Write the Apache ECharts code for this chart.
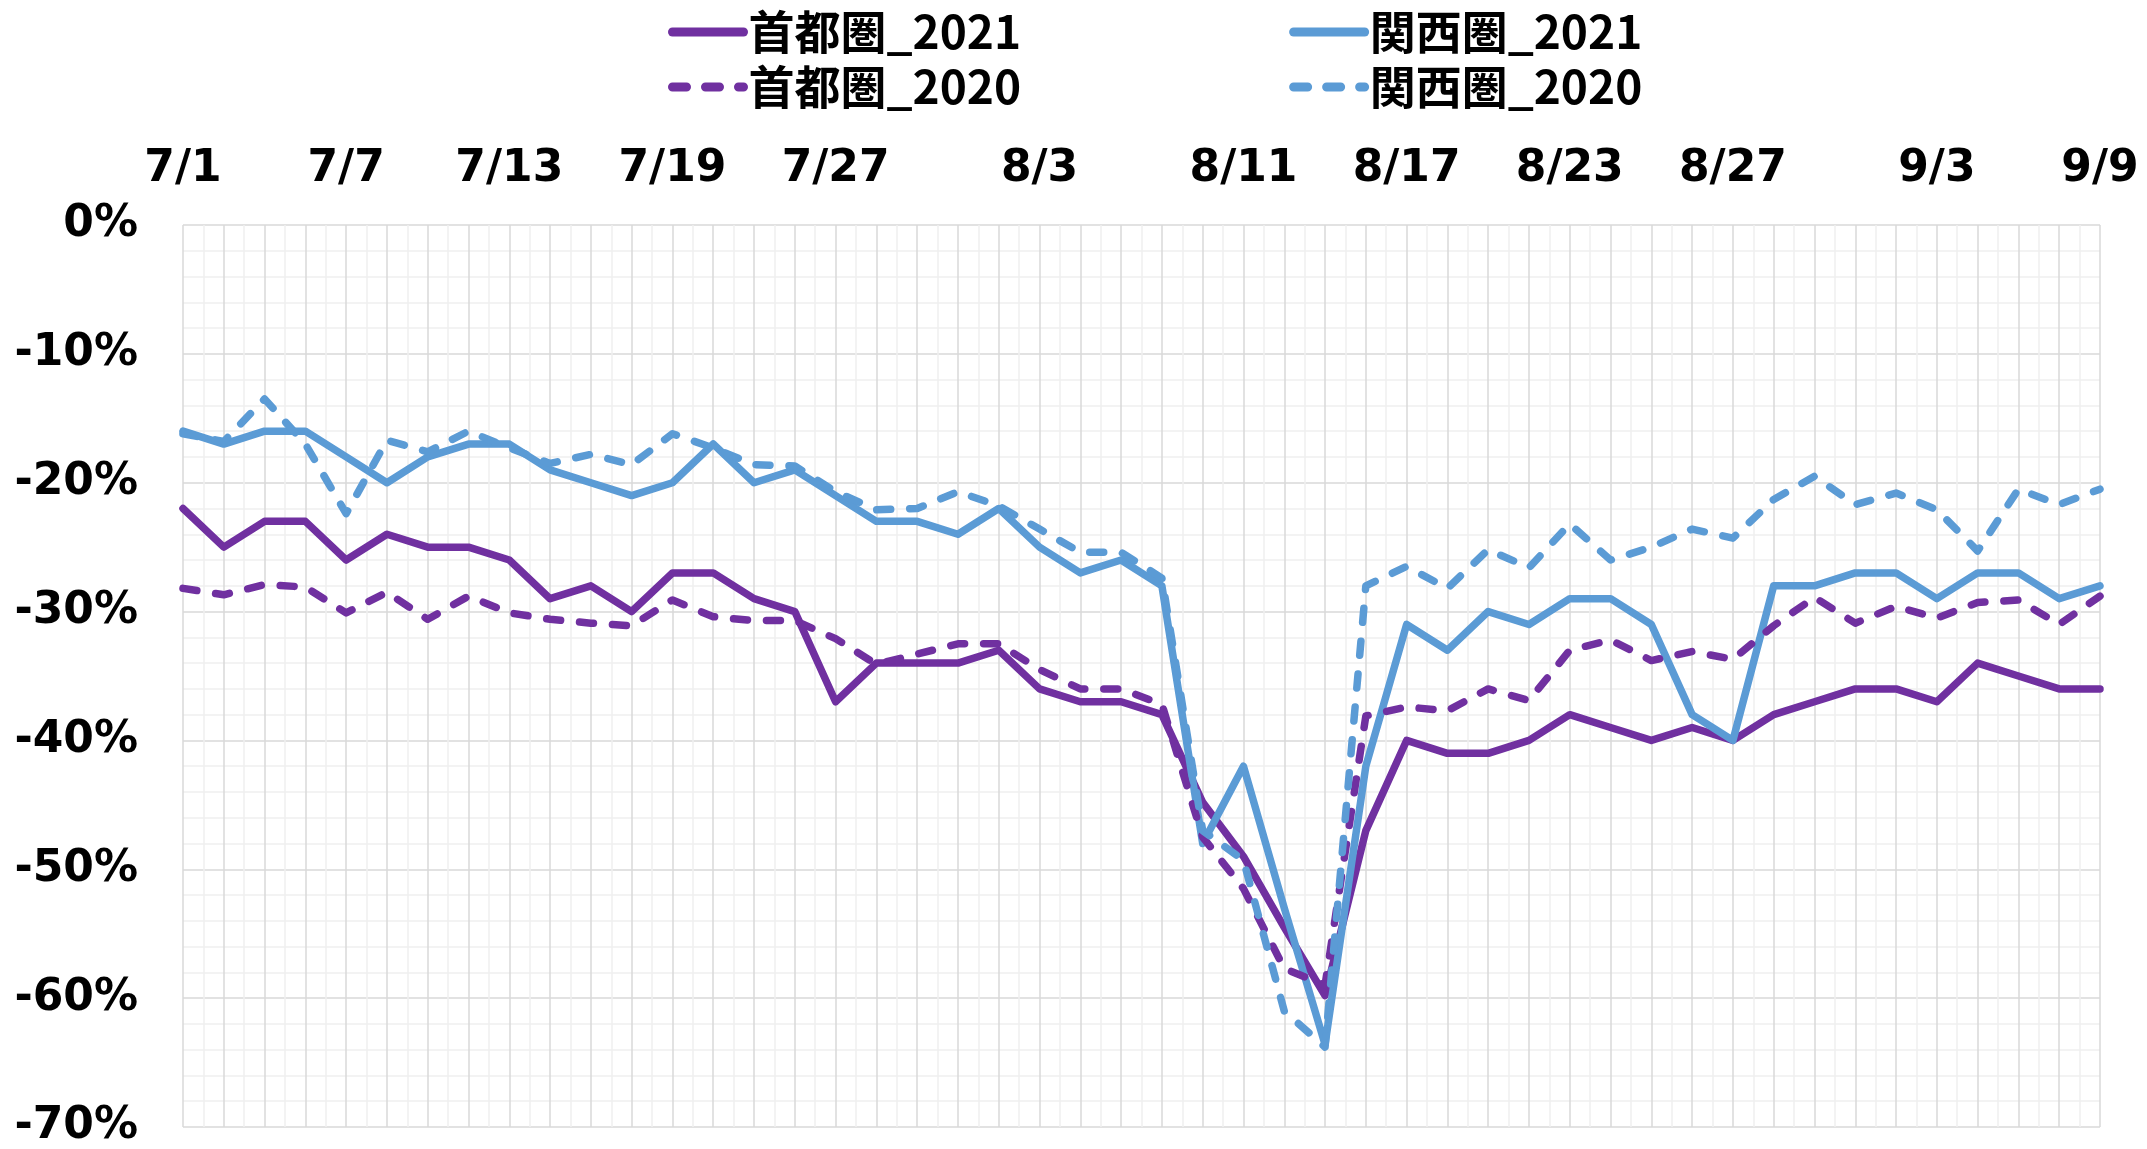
<!DOCTYPE html>
<html>
<head>
<meta charset="utf-8">
<script src="https://cdn.jsdelivr.net/npm/echarts@6/dist/echarts.min.js"></script>
<style>
html, body { margin: 0; padding: 0; background: #fff; }
#main { width: 2147px; height: 1149px; }
</style>
</head>
<body>
<div id="main"></div>
<script>
// weekdays only, holidays (7/22, 7/23, 8/9) left out
var days = ['7/1','7/2','7/5','7/6','7/7','7/8','7/9','7/12','7/13','7/14','7/15','7/16',
    '7/19','7/20','7/21','7/26','7/27','7/28','7/29','7/30','8/2','8/3','8/4','8/5',
    '8/6','8/10','8/11','8/12','8/13','8/16','8/17','8/18','8/19','8/20','8/23','8/24',
    '8/25','8/26','8/27','8/30','8/31','9/1','9/2','9/3','9/6','9/7','9/8','9/9'];
var shownDays = ['7/1','7/7','7/13','7/19','7/27','8/3','8/11','8/17','8/23','8/27','9/3','9/9'];

var shuto2021 = [-22,-25,-23,-23,-26,-24,-25,-25,-26,-29,-28,-30,-27,-27,-29,-30,-37,-34,-34,-34,-33,-36,-37,-37,
    -38,-44.8,-49,-54.5,-59.8,-47,-40,-41,-41,-40,-38,-39,-40,-39,-40,-38,-37,-36,-36,-37,-34,-35,-36,-36];
var kansai2021 = [-16,-17,-16,-16,-18,-20,-18,-17,-17,-19,-20,-21,-20,-17,-20,-19,-21,-23,-23,-24,-22,-25,-27,-26,
    -28,-48,-42,-53,-63.6,-42,-31,-33,-30,-31,-29,-29,-31,-38,-40,-28,-28,-27,-27,-29,-27,-27,-29,-28];
var shuto2020 = [-28.2,-28.7,-27.9,-28.1,-30.1,-28.5,-30.6,-28.8,-30.1,-30.6,-30.9,-31.1,-29.1,-30.4,-30.7,-30.7,
    -32.1,-34.1,-33.3,-32.5,-32.5,-34.5,-36,-36,-37.2,-47.5,-51.5,-57.7,-59,-38.1,-37.4,-37.7,-36,-36.9,-33,-32.2,
    -33.8,-33.1,-33.7,-31.1,-28.9,-30.9,-29.6,-30.5,-29.3,-29.1,-31,-28.8];
var kansai2020 = [-16.2,-16.8,-13.5,-17,-22.4,-16.7,-17.6,-16,-17.3,-18.5,-17.8,-18.6,-16.2,-17.3,-18.6,-18.7,
    -20.7,-22.1,-22,-20.7,-21.8,-23.6,-25.4,-25.4,-27.4,-47,-49.3,-61,-63.8,-28,-26.5,-28.2,-25.2,-26.6,-23.2,-26,
    -25,-23.6,-24.3,-21.3,-19.5,-21.7,-20.8,-22.1,-25.3,-20.5,-21.7,-20.5];

var purple = '#7030A0';
var blue = '#5B9BD5';
var labelFont = { fontFamily: 'DejaVu Sans', fontWeight: 'bold', fontSize: 44, color: '#000' };
var legendText = { fontFamily: 'Noto Sans CJK JP', fontWeight: 'bold', fontSize: 46, color: '#000', lineHeight: 52 };

function mkLine(name, data, color, dashed) {
    return {
        name: name,
        type: 'line',
        data: data,
        symbol: 'none',
        lineStyle: {
            color: color,
            width: 7.5,
            type: dashed ? [14, 19] : 'solid',
            cap: 'round',
            join: 'round'
        },
        itemStyle: { color: color }
    };
}

function mkLegend(names, top) {
    return {
        data: names,
        left: 663, top: top,
        itemWidth: 71, itemHeight: 14, itemGap: 268,
        itemStyle: { opacity: 0 },
        lineStyle: { width: 9, cap: 'round' },
        textStyle: legendText
    };
}

var myChart = echarts.init(document.getElementById('main'));
var option = {
    animation: false,
    legend: [
        mkLegend(['首都圏_2021', '関西圏_2021'], 1),
        mkLegend(['首都圏_2020', '関西圏_2020'], 56)
    ],
    grid: { left: 183, right: 47, top: 225, bottom: 21 },
    xAxis: [
        {
            type: 'category',
            position: 'top',
            boundaryGap: false,
            data: days,
            axisLine: { show: false },
            axisTick: { show: false },
            splitLine: { show: false },
            axisLabel: Object.assign({
                margin: 33,
                interval: function (idx, val) { return shownDays.indexOf(val) >= 0; }
            }, labelFont)
        },
        {
            // hidden helper axis for the vertical grid
            type: 'value',
            min: 0, max: days.length - 1, interval: 1,
            axisLine: { show: false },
            axisTick: { show: false },
            axisLabel: { show: false },
            minorTick: { show: false, splitNumber: 2 },
            splitLine: { show: true, lineStyle: { color: '#d9d9d9', width: 1.5 } },
            minorSplitLine: { show: true, lineStyle: { color: '#f0f0f0', width: 1.5 } }
        }
    ],
    yAxis: {
        type: 'value',
        min: -70, max: 0, interval: 10,
        axisLine: { show: false },
        axisTick: { show: false },
        axisLabel: Object.assign({ margin: 45, formatter: '{value}%' }, labelFont),
        minorTick: { show: false, splitNumber: 5 },
        splitLine: { lineStyle: { color: '#d9d9d9', width: 1.5 } },
        minorSplitLine: { show: true, lineStyle: { color: '#f0f0f0', width: 1.5 } }
    },
    series: [
        mkLine('首都圏_2021', shuto2021, purple, false),
        mkLine('関西圏_2021', kansai2021, blue, false),
        mkLine('首都圏_2020', shuto2020, purple, true),
        mkLine('関西圏_2020', kansai2020, blue, true)
    ]
};
myChart.setOption(option);
</script>
</body>
</html>
